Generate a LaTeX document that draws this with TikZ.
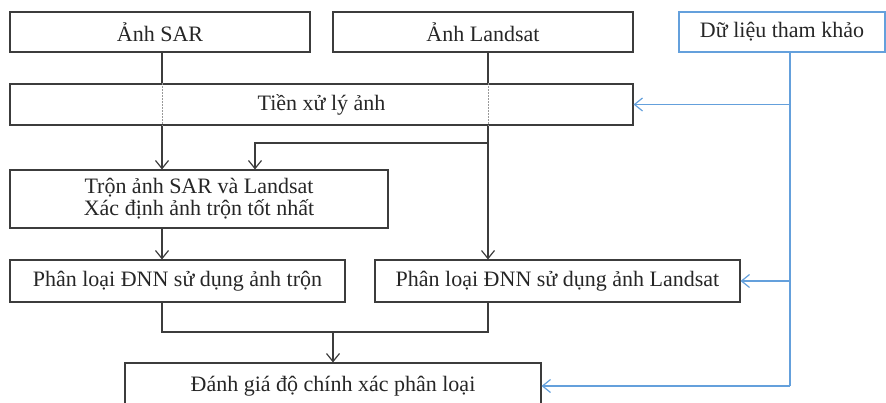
\documentclass[tikz,border=0pt]{standalone}
\usepackage{fontspec}
\setmainfont{Liberation Serif}
\usetikzlibrary{arrows.meta}
\definecolor{lineblue}{RGB}{100,160,220}
\definecolor{linegray}{RGB}{60,60,60}
\begin{document}
\begin{tikzpicture}[x=1pt,y=-1pt,
  box/.style={draw=linegray,line width=1.1pt,inner sep=0pt,align=center,
    font=\fontsize{22}{24}\selectfont,text=black!85},
  conn/.style={draw=linegray,line width=1.1pt},
  arr/.style={conn,-{Straight Barb[length=8pt,width=13pt,line width=1.2pt]}},
  barr/.style={draw=lineblue,line width=1.1pt,-{Straight Barb[length=8pt,width=13pt,line width=1.2pt]}},
  dots/.style={draw=black!40,line width=0.9pt,dash pattern=on 1.5pt off 1.5pt}]
\useasboundingbox (0,0) rectangle (886,403);
\clip (0,0) rectangle (886,403);
\node[box,minimum width=300pt,minimum height=40pt] (sar) at (160,32) {Ảnh SAR};
\node[box,minimum width=300pt,minimum height=40pt] (landsat) at (483,32) {Ảnh Landsat};
\node[box,draw=lineblue,minimum width=206pt,minimum height=40pt] (ref) at (782,32) {Dữ liệu tham khảo};
\node[box,minimum width=623pt,minimum height=41pt] (pre) at (321.5,104.5) {Tiền xử lý ảnh};
\node[box,minimum width=378pt,minimum height=58pt] (mix) at (199,199) {Trộn ảnh SAR và Landsat\\[-2pt]Xác định ảnh trộn tốt nhất};
\node[box,minimum width=335pt,minimum height=42pt] (clsmix) at (177.5,281) {Phân loại ĐNN sử dụng ảnh trộn};
\node[box,minimum width=365pt,minimum height=42pt] (clsland) at (557.5,281) {Phân loại ĐNN sử dụng ảnh Landsat};
\node[box,minimum width=416pt,minimum height=46pt] (eval) at (333,386) {Đánh giá độ chính xác phân loại};
\coordinate (xs) at (162,0);
\coordinate (xl) at (488,0);
\coordinate (xm) at (255,0);
\coordinate (xb) at (790,0);
\coordinate (br) at (488,143);
\coordinate (mg) at (333,332);
% SAR path
\draw[conn] (sar.south -| xs) -- (pre.north -| xs);
\draw[dots] (pre.north -| xs) -- (pre.south -| xs);
\draw[arr] (pre.south -| xs) -- (mix.north -| xs);
% Landsat path
\draw[conn] (landsat.south -| xl) -- (pre.north -| xl);
\draw[dots] (pre.north -| xl) -- (pre.south -| xl);
\draw[arr] (pre.south -| xl) -- (clsland.north -| xl);
\draw[arr] (br) -| (mix.north -| xm);
% mix to classification
\draw[arr] (mix.south -| xs) -- (clsmix.north -| xs);
% merge
\draw[conn] (clsmix.south -| xs) |- (mg) -| (clsland.south -| xl);
\draw[arr] (mg) -- (eval.north -| mg);
% reference data
\draw[draw=lineblue,line width=1.1pt] (ref.south -| xb) -- (xb |- eval.east);
\draw[barr] (xb |- pre.east) -- (pre.east);
\draw[barr] (xb |- clsland.east) -- (clsland.east);
\draw[barr] (xb |- eval.east) -- (eval.east);
\end{tikzpicture}
\end{document}
